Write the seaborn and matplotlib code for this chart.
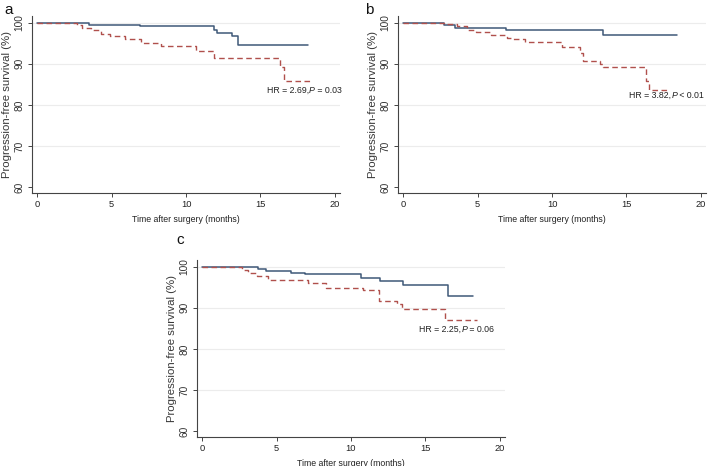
import matplotlib
matplotlib.use("Agg")
import matplotlib.pyplot as plt
import seaborn as sns
import pandas as pd

sns.set_theme(style="white")
plt.rcParams["font.family"] = ["Liberation Sans", "DejaVu Sans"]

# step points of each Kaplan-Meier curve (months, % progression-free)
a_blue_t = [0, 3.5, 6.9, 11.9, 12.1, 13.1, 13.47, 18.2]
a_blue_s = [100, 99.5, 99.1, 98.3, 97.5, 96.7, 94.6, 94.6]
a_red_t = [0, 2.67, 3.0, 3.6, 4.3, 4.9, 5.9, 7.0, 8.3, 10.7, 11.9, 16.3, 16.6, 18.5]
a_red_s = [100, 99.3, 98.8, 98.2, 97.3, 96.7, 96.1, 95.0, 94.2, 93.0, 91.4, 89.3, 85.7, 85.7]

b_blue_t = [0, 2.74, 3.5, 6.9, 13.45, 18.4]
b_blue_s = [100, 99.5, 98.7, 98.1, 97.1, 97.1]
b_red_t = [0, 2.74, 3.6, 4.3, 4.9, 5.9, 7.0, 7.3, 8.2, 10.7, 11.85, 12.1, 13.2, 13.4, 16.3, 16.5, 17.85]
b_red_s = [100, 99.6, 99.1, 98.3, 97.7, 97.1, 96.2, 95.9, 95.4, 94.0, 92.5, 90.6, 89.9, 89.1, 85.8, 83.7, 83.7]

c_blue_t = [0, 3.74, 4.3, 5.95, 6.9, 10.7, 11.95, 13.47, 16.55, 18.2]
c_blue_s = [100, 99.5, 99.0, 98.5, 98.1, 97.3, 96.5, 95.5, 92.8, 92.8]
c_red_t = [0, 2.7, 3.1, 3.7, 4.4, 7.1, 8.35, 10.8, 11.9, 13.1, 13.4, 16.3, 18.45]
c_red_s = [100, 99.2, 98.4, 97.7, 96.8, 95.9, 94.9, 94.3, 91.7, 91.0, 89.6, 87.0, 87.0]

panel_letters = ["a", "b", "c"]
hr_texts = [("HR = 2.69,", "P", " = 0.03"), ("HR = 3.82,", "P", " < 0.01"), ("HR = 2.25,", "P", " = 0.06")]
hr_pos = [(15.45, 83.6), (15.2, 82.4), (14.6, 84.8)]

curves = [
    (a_blue_t, a_blue_s, a_red_t, a_red_s),
    (b_blue_t, b_blue_s, b_red_t, b_red_s),
    (c_blue_t, c_blue_s, c_red_t, c_red_s),
]

W, H = 709, 466
fig = plt.figure(figsize=(W / 100, H / 100), dpi=100)

# axes boxes in pixels: left, top, right, bottom
boxes = [(32, 16, 340, 193), (398, 16, 706, 193), (197, 260, 505, 437)]
letter_pos = [(4, 3), (365, 3), (176, 233)]

BLUE = "#3f5878"
RED = "#b0504c"
TXT = "#222222"
fs = 6.3

for i, (box, (bt, bs, rt, rs)) in enumerate(zip(boxes, curves)):
    l, t, r, b = box
    ax = fig.add_axes([l / W, 1 - b / H, (r - l) / W, (b - t) / H])

    df_b = pd.DataFrame({"t": bt, "s": bs})
    df_r = pd.DataFrame({"t": rt, "s": rs})
    sns.lineplot(data=df_b, x="t", y="s", ax=ax, color=BLUE, lw=1.1,
                 drawstyle="steps-post", estimator=None, sort=False)
    sns.lineplot(data=df_r, x="t", y="s", ax=ax, color=RED, lw=1.0,
                 drawstyle="steps-post", estimator=None, sort=False,
                 linestyle=(0, (4, 2.5)))

    ax.set_xlim(-0.35, 20.35)
    ax.set_ylim(58.6, 101.6)
    ax.set_xticks([0, 5, 10, 15, 20])
    ax.set_yticks([60, 70, 80, 90, 100])
    ax.yaxis.grid(True, color="#ececec", lw=0.8)
    ax.get_ygridlines()[0].set_visible(False)
    ax.set_axisbelow(True)

    for side in ["top", "right"]:
        ax.spines[side].set_visible(False)
    for side in ["left", "bottom"]:
        ax.spines[side].set_color("#444444")
        ax.spines[side].set_linewidth(0.8)

    ax.tick_params(axis="both", which="both", length=3, width=0.7,
                   color="#444444", labelcolor=TXT, bottom=True, left=True)
    ax.tick_params(axis="x", labelsize=6.7, pad=2)
    ax.tick_params(axis="y", labelsize=7.3, pad=2.5, labelcolor="#333333")
    for lab in ax.get_yticklabels():
        lab.set_rotation(90)
        lab.set_va("center")
        lab.set_ha("right")

    ax.set_xlabel("Time after surgery (months)", fontsize=fs, color=TXT, labelpad=4)
    ax.set_ylabel("Progression-free survival (%)", fontsize=8.2, color="#383838", va="center")
    ax.yaxis.set_label_coords(-25 / 308, 0.5)

    hx, hy = hr_pos[i]
    pre, p, post = hr_texts[i]
    txt = ax.text(hx, hy, pre, fontsize=fs, color=TXT, va="center", ha="left", clip_on=False)
    txt2 = ax.annotate(p, xy=(1, 0), xycoords=txt, fontsize=fs, color=TXT,
                       style="italic", va="bottom", ha="left", annotation_clip=False)
    ax.annotate(post, xy=(1, 0), xycoords=txt2, fontsize=fs, color=TXT,
                va="bottom", ha="left", annotation_clip=False)

    lx, ly = letter_pos[i]
    fig.text(lx / W, 1 - ly / H, panel_letters[i], fontsize=11, color="#111111",
             ha="left", va="top")

fig.savefig("out.png", dpi=100)
